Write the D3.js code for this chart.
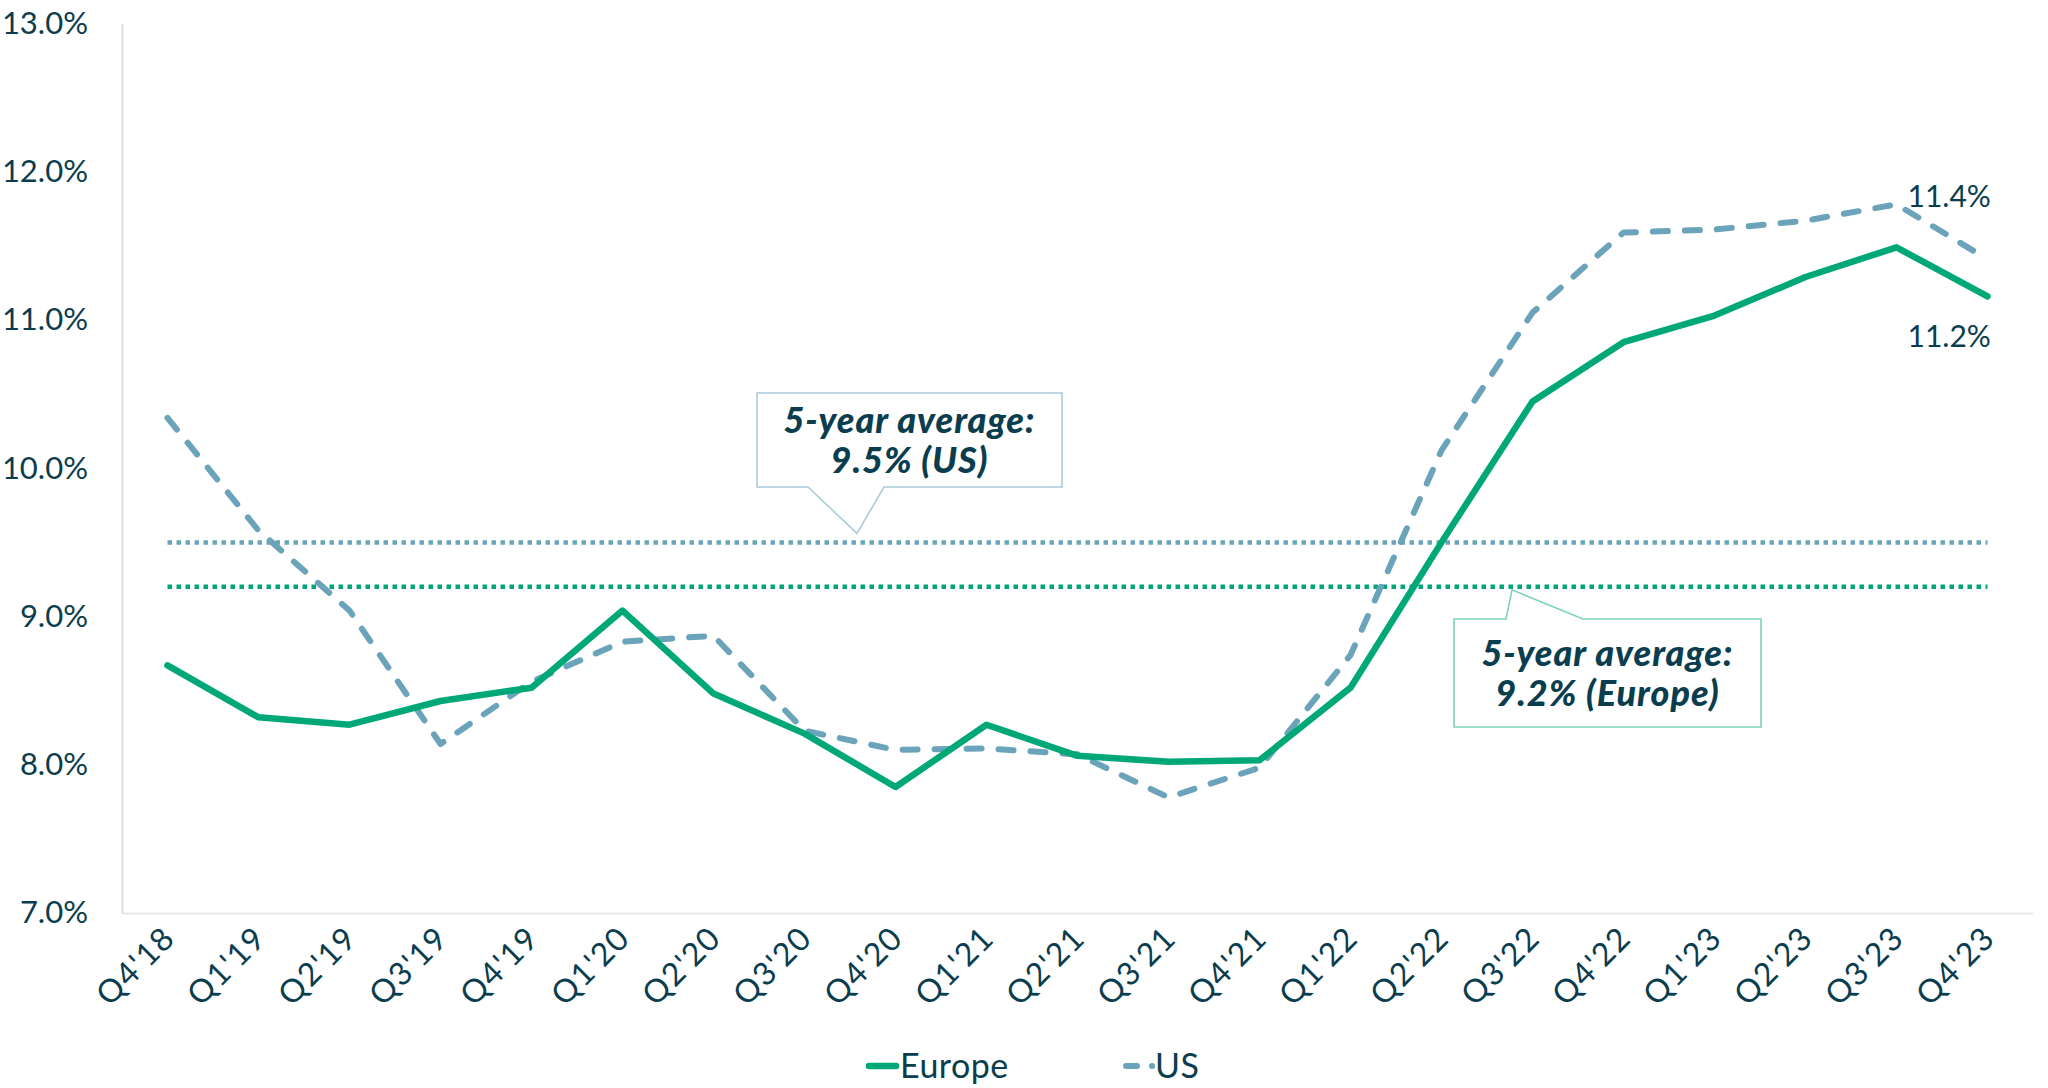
<!DOCTYPE html>
<html>
<head>
<meta charset="utf-8">
<script src="https://cdn.jsdelivr.net/npm/d3@7"></script>
<style>
  html, body { margin: 0; padding: 0; background: #ffffff; }
  svg { display: block; }
  text { font-family: Lato, "Noto Sans", sans-serif; }
</style>
</head>
<body>
<svg id="chart" width="2048" height="1088"></svg>
<script>
// ---- data ----
const categories = ["Q4'18","Q1'19","Q2'19","Q3'19","Q4'19","Q1'20","Q2'20","Q3'20","Q4'20",
  "Q1'21","Q2'21","Q3'21","Q4'21","Q1'22","Q2'22","Q3'22","Q4'22","Q1'23","Q2'23","Q3'23","Q4'23"];
const europeValues = [8.67, 8.32, 8.27, 8.43, 8.52, 9.04, 8.48, 8.21, 7.85,
  8.27, 8.06, 8.02, 8.03, 8.52, 9.50, 10.45, 10.85, 11.03, 11.29, 11.49, 11.16];
const usValues = [10.34, 9.58, 9.04, 8.14, 8.56, 8.83, 8.87, 8.23, 8.10,
  8.11, 8.07, 7.78, 7.98, 8.74, 10.12, 11.05, 11.59, 11.61, 11.67, 11.78, 11.41];
const seriesNames = ["Europe", "US"];
const averageValues = [9.2, 9.5]; // Europe, US
const averageLabels = [["5-year average:", "9.2% (Europe)"], ["5-year average:", "9.5% (US)"]];
const endLabels = ["11.2%", "11.4%"]; // Europe, US
const yTicks = [7, 8, 9, 10, 11, 12, 13];

// ---- styles ----
const C_EU = "#00A878", C_US = "#6AA3BA", C_TEXT = "#0A3D4E";

const svg = d3.select("#chart");
const x = d3.scalePoint().domain(categories).range([122, 2033]).padding(0.5);
const y = d3.scaleLinear().domain([7, 13]).range([913, 23.5]);

// y axis
const yAxis = svg.append("g").attr("transform", "translate(122,0)")
  .call(d3.axisLeft(y).tickValues(yTicks).tickSize(0).tickPadding(34)
    .tickFormat(d => d.toFixed(1) + "%"));
yAxis.select(".domain").attr("stroke", "#e3dfdb").attr("stroke-width", 2);
yAxis.selectAll("text").attr("font-size", 31).attr("fill", C_TEXT).attr("font-family", "Lato");

// x axis
const xAxis = svg.append("g").attr("transform", "translate(0,913)")
  .call(d3.axisBottom(x).tickSize(0).tickSizeOuter(0));
xAxis.select(".domain").attr("stroke", "#e8e8e8").attr("stroke-width", 2);
xAxis.selectAll("text")
  .attr("font-size", 32).attr("fill", C_TEXT).attr("font-family", "Lato")
  .attr("letter-spacing", 1.5)
  .attr("text-anchor", "end")
  .attr("y", 0).attr("dy", 0)
  .attr("transform", "translate(9,27) rotate(-45)");

// average dotted lines
const avgColors = [C_EU, C_US];
averageValues.forEach((v, i) => {
  svg.append("line")
    .attr("x1", x(categories[0])).attr("x2", x(categories[categories.length - 1]))
    .attr("y1", y(v)).attr("y2", y(v))
    .attr("stroke", avgColors[i]).attr("stroke-width", 4.5)
    .attr("stroke-dasharray", "4.5,4.5");
});

// series lines
const line = d3.line().x((d, i) => x(categories[i])).y(d => y(d));
svg.append("path").datum(usValues).attr("d", line)
  .attr("fill", "none").attr("stroke", C_US).attr("stroke-width", 6)
  .attr("stroke-linecap", "round").attr("stroke-linejoin", "round")
  .attr("stroke-dasharray", "15,17");
svg.append("path").datum(europeValues).attr("d", line)
  .attr("fill", "none").attr("stroke", C_EU).attr("stroke-width", 6.5)
  .attr("stroke-linecap", "round").attr("stroke-linejoin", "round");

// end labels
const secondLast = categories[categories.length - 2];
svg.append("text").attr("x", x(secondLast) + 11).attr("y", 207)
  .attr("font-size", 30).attr("fill", C_TEXT).text(endLabels[1]);
svg.append("text").attr("x", x(secondLast) + 11).attr("y", 347)
  .attr("font-size", 30).attr("fill", C_TEXT).text(endLabels[0]);

// callouts
function callout(box, tip, base, stroke, lines, pointUp, textTop) {
  const [l, t, r, b] = box;
  let p;
  if (pointUp) {
    p = `M${l},${t} H${base[0]} L${tip[0]},${tip[1]} L${base[1]},${t} H${r} V${b} H${l} Z`;
  } else {
    p = `M${l},${t} H${r} V${b} H${base[1]} L${tip[0]},${tip[1]} L${base[0]},${b} H${l} Z`;
  }
  svg.append("path").attr("d", p).attr("fill", "#fff")
    .attr("stroke", stroke).attr("stroke-width", 1.6);
  const cx = (l + r) / 2;
  lines.forEach((s, k) => {
    svg.append("text").attr("x", cx).attr("y", t + textTop + k * 40)
      .attr("text-anchor", "middle").attr("font-size", 36)
      .attr("letter-spacing", 1)
      .attr("font-weight", 900).attr("font-style", "italic")
      .attr("fill", C_TEXT).text(s);
  });
}
// US callout (pointing down to the US average line)
callout([757, 393, 1062, 487], [857, y(averageValues[1]) - 9], [808, 884], "#A9CCDA", averageLabels[1], false, 40);
// Europe callout (pointing up to the Europe average line)
callout([1454, 619, 1761, 727], [1512, y(averageValues[0]) + 3], [1506, 1583], "#7DD3BA", averageLabels[0], true, 47);

// legend
const lg = svg.append("g");
lg.append("line").attr("x1", 869).attr("x2", 896).attr("y1", 1066).attr("y2", 1066)
  .attr("stroke", C_EU).attr("stroke-width", 6.5).attr("stroke-linecap", "round");
lg.append("text").attr("x", 900).attr("y", 1078).attr("font-size", 34).attr("letter-spacing", 0.5)
  .attr("fill", C_TEXT).text(seriesNames[0]);
lg.append("line").attr("x1", 1126).attr("x2", 1160).attr("y1", 1066).attr("y2", 1066)
  .attr("stroke", C_US).attr("stroke-width", 6).attr("stroke-linecap", "round")
  .attr("stroke-dasharray", "11,15,0.1,50");
lg.append("text").attr("x", 1155).attr("y", 1078).attr("font-size", 34).attr("letter-spacing", 0.5)
  .attr("fill", C_TEXT).text(seriesNames[1]);
</script>
</body>
</html>
